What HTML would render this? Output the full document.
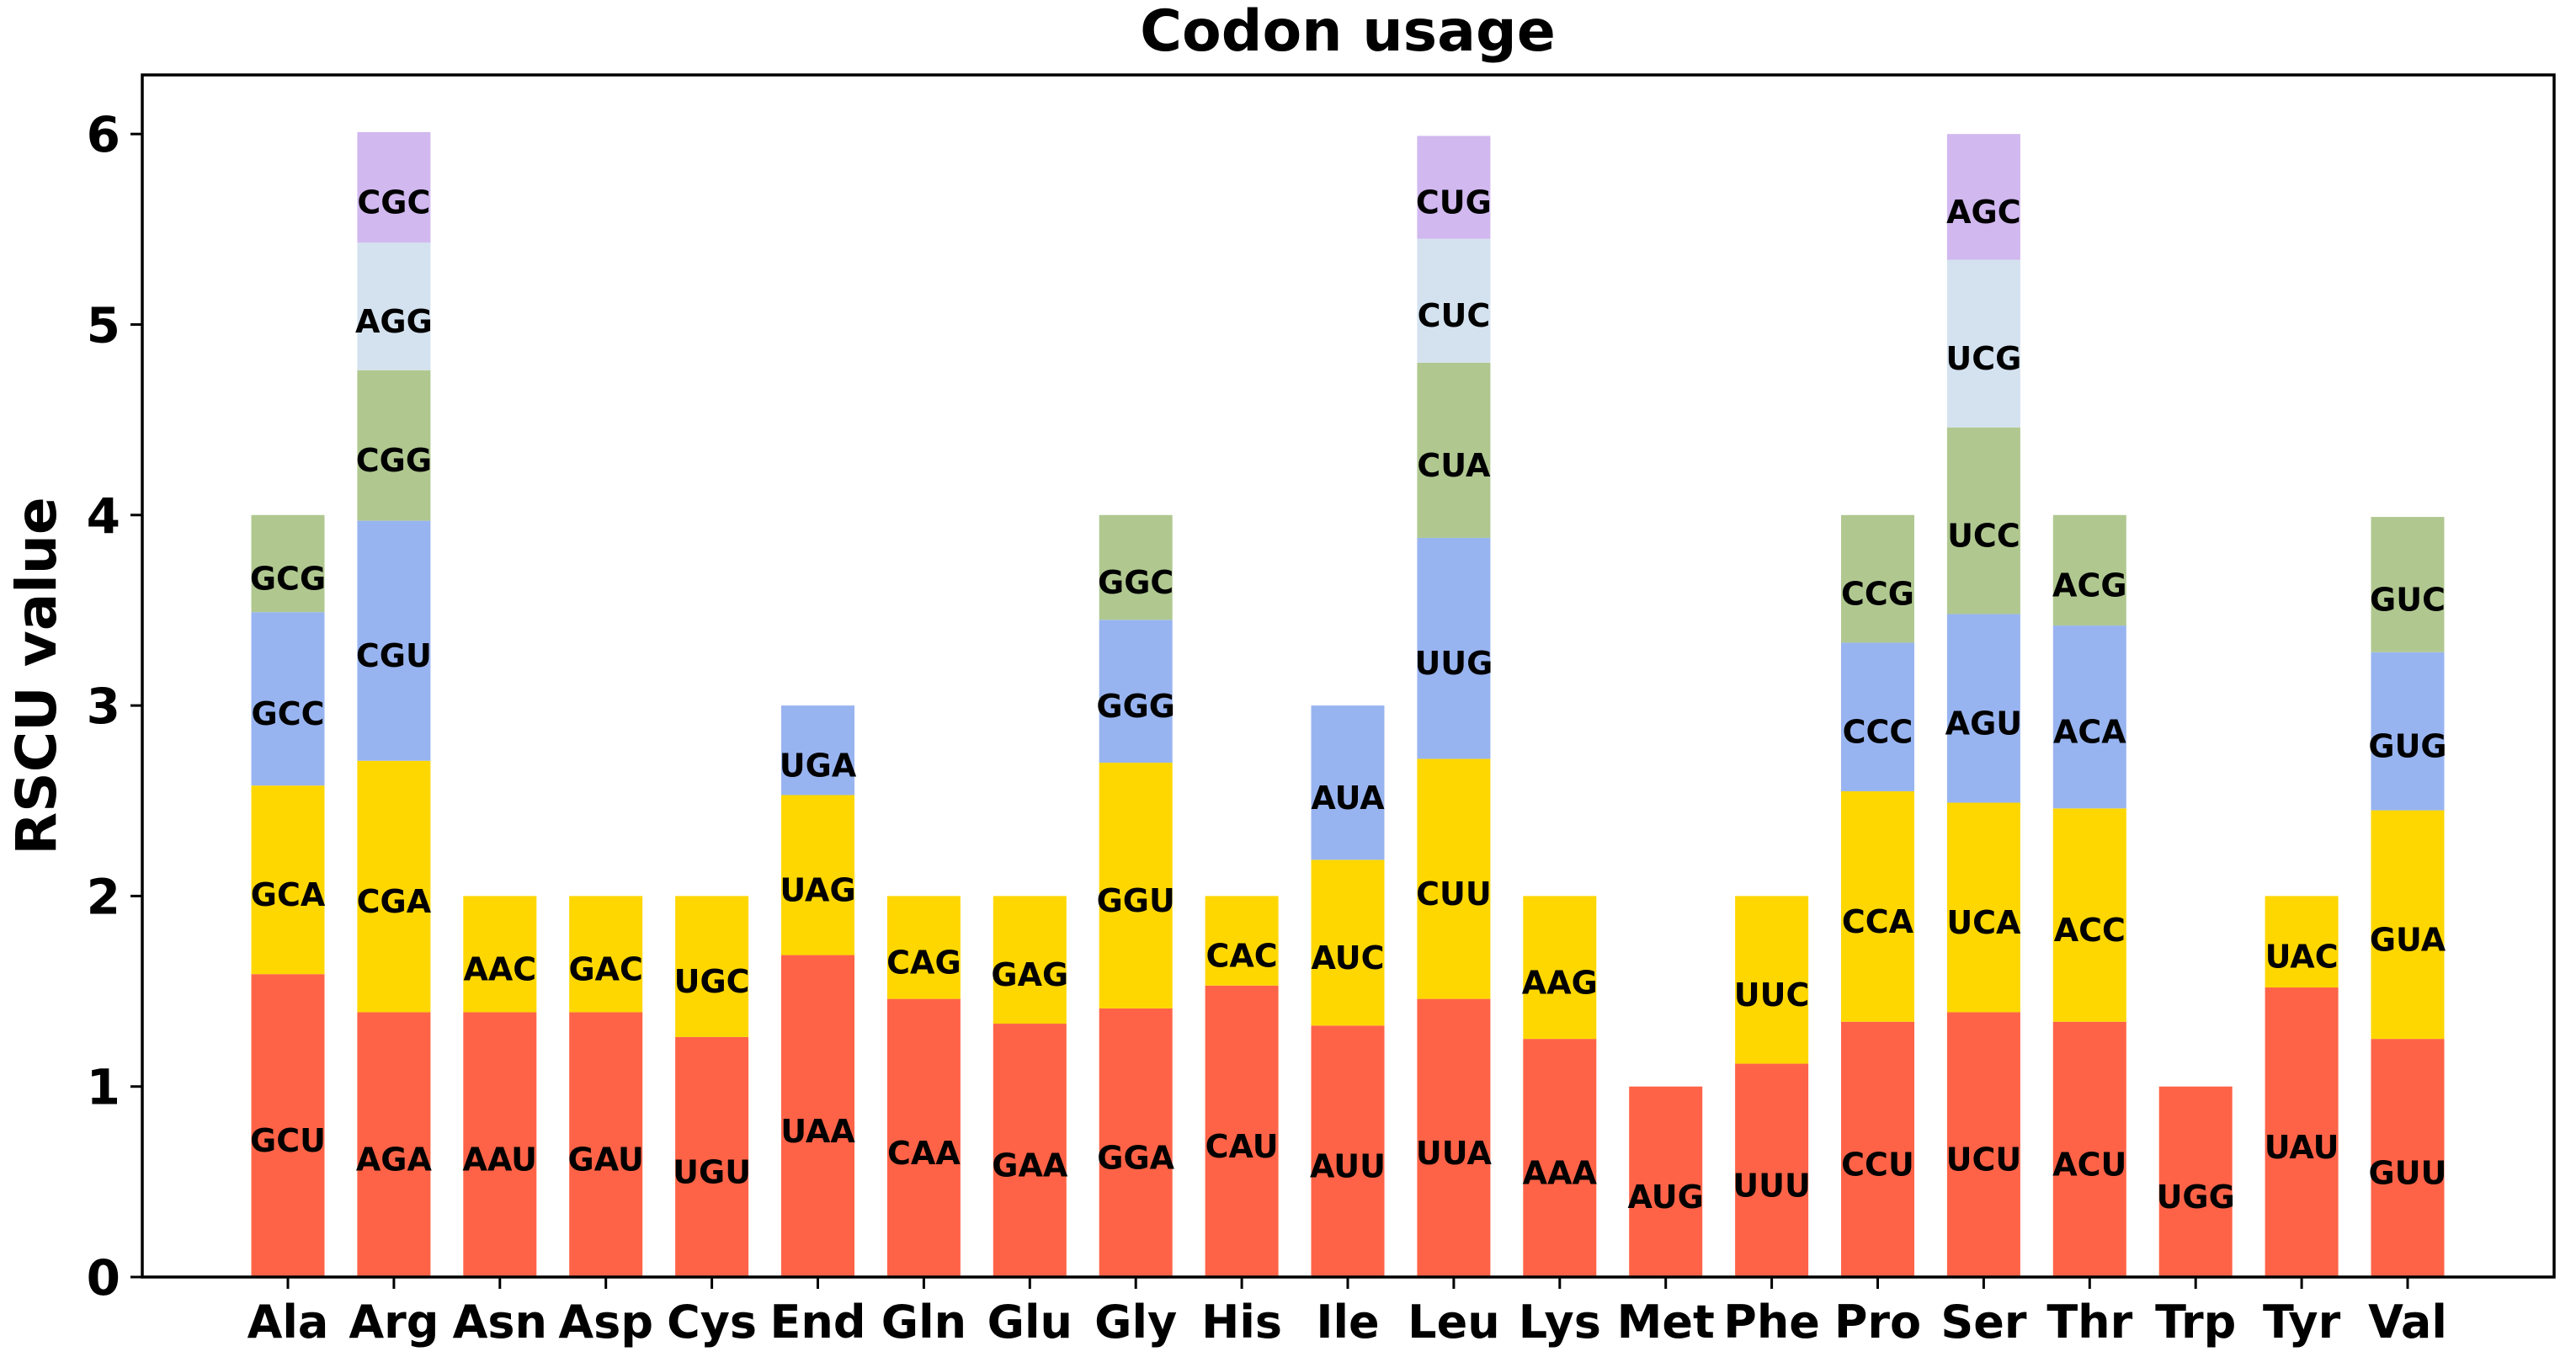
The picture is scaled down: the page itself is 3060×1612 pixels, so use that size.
<!DOCTYPE html>
<html><head><meta charset="utf-8"><style>
html,body{margin:0;padding:0;background:#fff;}
svg{display:block;font-family:"DejaVu Sans","Liberation Sans",sans-serif;font-weight:bold;}
</style></head><body>
<svg id="chart" width="3060" height="1612" viewBox="0 0 3060 1612" xmlns="http://www.w3.org/2000/svg">
<text x="1601" y="60" text-anchor="middle" font-size="68">Codon usage</text>
<text transform="translate(66,803) rotate(-90)" text-anchor="middle" font-size="66">RSCU value</text>
<g id="bars"></g>
<g id="axes"></g>
</svg>
<script>
const aminoAcids = ["Ala","Arg","Asn","Asp","Cys","End","Gln","Glu","Gly","His","Ile","Leu","Lys","Met","Phe","Pro","Ser","Thr","Trp","Tyr","Val"];
const codons = [
 ["GCU","GCA","GCC","GCG"],
 ["AGA","CGA","CGU","CGG","AGG","CGC"],
 ["AAU","AAC"],["GAU","GAC"],["UGU","UGC"],
 ["UAA","UAG","UGA"],["CAA","CAG"],["GAA","GAG"],
 ["GGA","GGU","GGG","GGC"],["CAU","CAC"],["AUU","AUC","AUA"],
 ["UUA","CUU","UUG","CUA","CUC","CUG"],["AAA","AAG"],["AUG"],["UUU","UUC"],
 ["CCU","CCA","CCC","CCG"],["UCU","UCA","AGU","UCC","UCG","AGC"],
 ["ACU","ACC","ACA","ACG"],["UGG"],["UAU","UAC"],["GUU","GUA","GUG","GUC"]
];
const rscu = [
 [1.59,0.99,0.91,0.51],
 [1.39,1.32,1.26,0.79,0.67,0.58],
 [1.39,0.61],[1.39,0.61],[1.26,0.74],
 [1.69,0.84,0.47],[1.46,0.54],[1.33,0.67],
 [1.41,1.29,0.75,0.55],[1.53,0.47],[1.32,0.87,0.81],
 [1.46,1.26,1.16,0.92,0.65,0.54],[1.25,0.75],[1.0],[1.12,0.88],
 [1.34,1.21,0.78,0.67],[1.39,1.10,0.99,0.98,0.88,0.66],
 [1.34,1.12,0.96,0.58],[1.0],[1.52,0.48],[1.25,1.20,0.83,0.71]
];
const yTicks = [0,1,2,3,4,5,6];
const colors = ["#FF6347","#FFD700","#98B4F0","#B0C890","#D4E2EF","#D1B8EF"];

const NS="http://www.w3.org/2000/svg";
const L=169,R=3034,T=89,B=1517;
const y0px=1517, unit=226.3;
const x0=342, step=125.9, bw=87;
const ys=v=>y0px-v*unit;
const xs=i=>x0+i*step;
function mk(tag,attrs,parent){const e=document.createElementNS(NS,tag);for(const k in attrs)e.setAttribute(k,attrs[k]);parent.appendChild(e);return e;}
const bars=document.getElementById('bars'), axes=document.getElementById('axes');
aminoAcids.forEach((aa,i)=>{
  let cum=0;
  rscu[i].forEach((v,j)=>{
    const r=mk('rect',{x:xs(i)-bw/2,y:ys(cum+v),width:bw,height:v*unit,fill:colors[j]},bars);
    
    
    const t=mk('text',{x:xs(i),y:ys(cum+v/2)+31,'text-anchor':'middle','font-size':'38'},bars);
    t.textContent=codons[i][j];
    
    
    cum+=v;
  });
  const tk=mk('line',{x1:xs(i),x2:xs(i),y1:B,y2:B+14,stroke:'#000','stroke-width':3},axes);
  
  
  const lb=mk('text',{x:xs(i),y:B+72,'text-anchor':'middle','font-size':'54'},axes);
  lb.textContent=aa;
  
  
});
yTicks.forEach(v=>{
  const tk=mk('line',{x1:L-14,x2:L,y1:ys(v),y2:ys(v),stroke:'#000','stroke-width':3},axes);
  
  
  const lb=mk('text',{x:L-26,y:ys(v)+21,'text-anchor':'end','font-size':'58'},axes);
  lb.textContent=v;
  
  
});
const fr=mk('rect',{x:L,y:T,width:R-L,height:B-T,fill:'none',stroke:'#000','stroke-width':3.5},axes);


</script>
</body></html>
